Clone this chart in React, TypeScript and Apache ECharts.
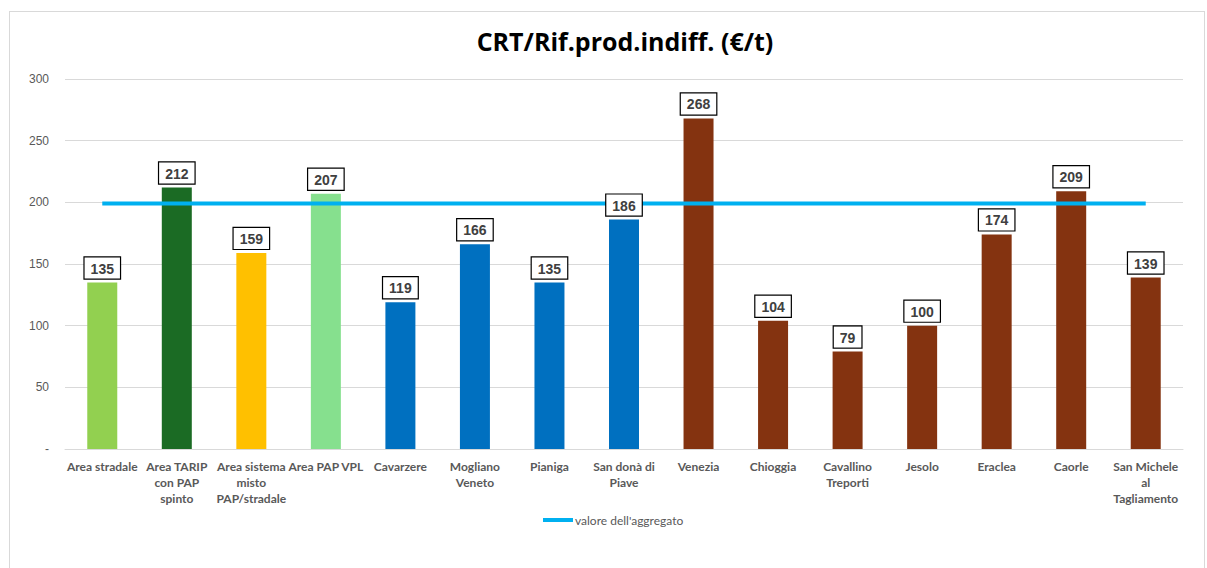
import React, { useEffect, useRef } from "react";
import * as echarts from "echarts";

const categories = [
  "Area stradale",
  "Area TARIP con PAP spinto",
  "Area sistema misto PAP/stradale",
  "Area PAP VPL",
  "Cavarzere",
  "Mogliano Veneto",
  "Pianiga",
  "San donà di Piave",
  "Venezia",
  "Chioggia",
  "Cavallino Treporti",
  "Jesolo",
  "Eraclea",
  "Caorle",
  "San Michele al Tagliamento",
];
const categoryLabels = [
  "Area stradale",
  "Area TARIP\ncon PAP\nspinto",
  "Area sistema\nmisto\nPAP/stradale",
  "Area PAP VPL",
  "Cavarzere",
  "Mogliano\nVeneto",
  "Pianiga",
  "San donà di\nPiave",
  "Venezia",
  "Chioggia",
  "Cavallino\nTreporti",
  "Jesolo",
  "Eraclea",
  "Caorle",
  "San Michele\nal\nTagliamento",
];
const values = [135, 212, 159, 207, 119, 166, 135, 186, 268, 104, 79, 100, 174, 209, 139];
const aggregateValue = 199;
const barColors = [
  "#92D050", "#1B6B24", "#FFC000", "#86E08E",
  "#0070C0", "#0070C0", "#0070C0", "#0070C0",
  "#843310", "#843310", "#843310", "#843310", "#843310", "#843310", "#843310",
];
const yTicks = { min: 0, max: 300, interval: 50 };
const title = "CRT/Rif.prod.indiff. (€/t)";
const lineName = "valore dell'aggregato";

export default function App() {
  const ref = useRef<HTMLDivElement>(null);
  useEffect(() => {
    if (!ref.current) return;
    const chart = echarts.init(ref.current, null, { renderer: "svg" });
    const labelMap: Record<string, string> = {};
    categories.forEach((c, i) => (labelMap[c] = categoryLabels[i]));
    chart.setOption({
      animation: false,
      backgroundColor: "#fff",
      title: {
        text: title,
        left: 620,
        textAlign: "center",
        top: 23,
        textStyle: { fontFamily: "Open Sans", fontWeight: "bold", fontSize: 25, color: "#000" },
      },
      grid: { left: 65, right: 24, top: 79, bottom: 119, containLabel: false },
      legend: {
        data: [lineName],
        bottom: 37,
        left: 538,
        itemWidth: 30,
        itemHeight: 4,
        itemGap: 2,
        icon: "rect",
        textStyle: { color: "#595959", fontSize: 12, fontFamily: "Lato", padding: [0, 0, 0, -3] },
      },
      xAxis: {
        type: "category",
        data: categories,
        axisLine: { lineStyle: { color: "#d9d9d9" } },
        axisTick: { show: false },
        axisLabel: {
          interval: 0,
          formatter: (v: string) => labelMap[v] ?? v,
          color: "#595959",
          fontWeight: "bold",
          fontSize: 12,
          fontFamily: "Lato",
          lineHeight: 16,
          margin: 9,
        },
      },
      yAxis: {
        type: "value",
        min: yTicks.min,
        max: yTicks.max,
        interval: yTicks.interval,
        axisLine: { show: false },
        axisTick: { show: false },
        splitLine: { lineStyle: { color: "#d9d9d9" } },
        axisLabel: {
          formatter: (v: number) => (v === 0 ? "-" : String(v)),
          color: "#595959",
          fontSize: 12,
          fontFamily: "Liberation Sans",
          margin: 16,
        },
      },
      series: [
        {
          type: "bar",
          data: values.map((v, i) => ({ value: v, itemStyle: { color: barColors[i] } })),
          barWidth: 30,
          z: 2,
        },
        {
          name: lineName,
          type: "line",
          data: categories.map(() => aggregateValue),
          showSymbol: false,
          symbol: "none",
          lineStyle: { width: 4, color: "#00B0F0" },
          itemStyle: { color: "#00B0F0" },
          z: 3,
        },
        {
          type: "bar",
          data: values,
          barWidth: 30,
          barGap: "-100%",
          itemStyle: { color: "rgba(0,0,0,0)" },
          z: 4,
          silent: true,
          label: {
            show: true,
            position: "top",
            distance: 4,
            backgroundColor: "#fff",
            borderColor: "#000",
            borderWidth: 1.2,
            padding: [4, 6, 3, 6],
            color: "#404040",
            fontWeight: "bold",
            fontSize: 14,
            fontFamily: "Liberation Sans",
          },
        },
      ],
    });
    return () => chart.dispose();
  }, []);
  return (
    <div style={{ position: "absolute", left: 0, top: 0, width: 1207, height: 568, background: "#fff" }}>
      <div ref={ref} style={{ position: "absolute", left: 0, top: 0, width: 1207, height: 568 }} />
      <div
        style={{
          position: "absolute",
          left: 9,
          top: 11,
          width: 1194,
          height: 570,
          border: "1px solid #d9d9d9",
          pointerEvents: "none",
        }}
      />
    </div>
  );
}
